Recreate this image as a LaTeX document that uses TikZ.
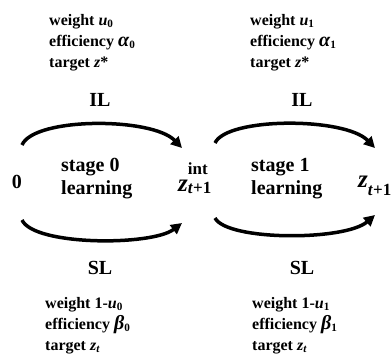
\documentclass[tikz,border=0pt]{standalone}
\usepackage{fontspec}
\setmainfont{Liberation Serif}
\usetikzlibrary{arrows.meta,positioning}

\newcommand{\mv}[1]{\textit{#1}}
\newcommand{\lo}[1]{\textsubscript{#1}}
\newcommand{\gk}[1]{{\fontsize{20}{21}\selectfont\mv{#1}}}
\newcommand{\bigz}{{\fontsize{25}{27}\selectfont\mv{z}}}

\begin{document}
\begin{tikzpicture}[x=1pt, y=1pt,
    every node/.style={inner sep=0pt, font=\bfseries},
    info/.style={align=left, anchor=north west,
                 font=\fontsize{16}{21}\selectfont\bfseries},
    tag/.style={font=\fontsize{20}{23}\selectfont\bfseries},
    state/.style={anchor=base west, font=\fontsize{17}{20}\selectfont\bfseries},
    stagebox/.style={align=left, anchor=north west,
                     font=\fontsize{20}{23}\selectfont\bfseries},
    flow/.style={-{Triangle[length=11pt,width=11pt]}, line width=3.5pt}
]
    \useasboundingbox (0,0) rectangle (392,360);

    % states
    \node[tag, anchor=base] (zero) at (17,172) {0};
    \node[state] (zint) at (178,169)
        {\bigz\rlap{\raisebox{17pt}{int}}\raisebox{-2pt}{\mv{t}+1}};
    \node[state] (znext) at (358,173) {\bigz\raisebox{-9pt}{\mv{t}+1}};

    % stages
    \node[stagebox] (stage0) at (61,202) {stage 0\\learning};
    \node[stagebox] (stage1) at (251,202) {stage 1\\learning};

    % labels of the two paths
    \node[tag] (il0) at (100,260) {IL};
    \node[tag] (sl0) at (100,92)  {SL};
    \node[tag] (il1) at (302,260) {IL};
    \node[tag] (sl1) at (302,92)  {SL};

    % parameters
    \node[info] (up0) at (49,346)
        {weight \mv{u}\lo{0}\\efficiency \gk{α}\lo{0}\\target \mv{z}*};
    \node[info] (up1) at (250,346)
        {weight \mv{u}\lo{1}\\efficiency \gk{α}\lo{1}\\target \mv{z}*};
    \node[info] (dn0) at (45,63)
        {weight 1-\mv{u}\lo{0}\\efficiency \gk{β}\lo{0}\\target \mv{z}\lo{\mv{t}}};
    \node[info] (dn1) at (252,63)
        {weight 1-\mv{u}\lo{1}\\efficiency \gk{β}\lo{1}\\target \mv{z}\lo{\mv{t}}};

    % arc ends
    \coordinate (a0s) at (22,215);  \coordinate (a0e) at (182,212);
    \coordinate (b0s) at (22,140);  \coordinate (b0e) at (182,137);
    \coordinate (a1s) at (215,217); \coordinate (a1e) at (375,212);
    \coordinate (b1s) at (215,142); \coordinate (b1e) at (375,145);

    \draw[flow] (a0s) .. controls (34,243) and (152,243) .. (a0e);
    \draw[flow] (b0s) .. controls (34,114) and (152,114) .. (b0e);
    \draw[flow] (a1s) .. controls (227,243) and (345,243) .. (a1e);
    \draw[flow] (b1s) .. controls (227,119) and (345,119) .. (b1e);
\end{tikzpicture}
\end{document}
